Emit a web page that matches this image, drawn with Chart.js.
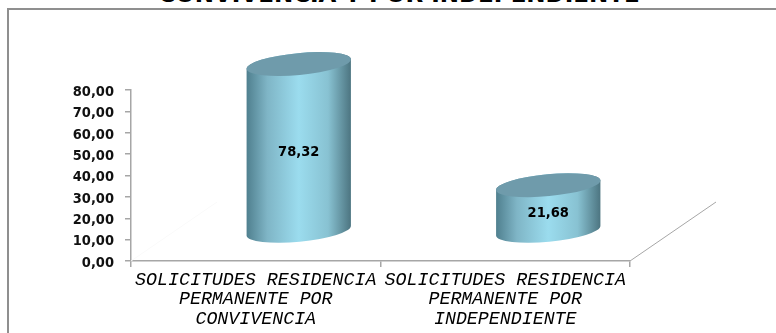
<!DOCTYPE html>
<html>
<head>
<meta charset="utf-8">
<script src="https://cdn.jsdelivr.net/npm/chart.js@4/dist/chart.umd.js"></script>
<style>
    html, body { margin: 0; padding: 0; background: #fff; overflow: hidden; }
    #wrap { position: relative; width: 776px; height: 333px; overflow: hidden; }
    #frame { position: absolute; left: 7px; top: 8px; width: 900px; height: 500px; border: 2px solid #8f8f8f; }
    #title {
        position: absolute; left: 0; top: -19px; width: 798px; text-align: center;
        font: bold 23px 'DejaVu Sans', sans-serif; color: #000; white-space: nowrap;
    }
    canvas { position: absolute; left: 0; top: 0; }
</style>
</head>
<body>
<div id="wrap">
    <div id="frame"></div>
    <div id="title">CONVIVENCIA Y POR INDEPENDIENTE</div>
    <canvas id="chart" width="776" height="333"></canvas>
</div>
<script>
const categories = [
    ['SOLICITUDES RESIDENCIA', 'PERMANENTE POR', 'CONVIVENCIA'],
    ['SOLICITUDES RESIDENCIA', 'PERMANENTE POR', 'INDEPENDIENTE']
];
const values = [78.32, 21.68];
const yMin = 0;
const yMax = 80;
const yStep = 10;

// Falso 3D: desplazamiento del fondo del grafico
const depthX = 86;
const depthY = -59;
const axisColor = '#a6a6a6';
const numberFont = "'DejaVu Sans Condensed', 'DejaVu Sans', sans-serif";

const formatValue = v => v.toFixed(2).replace('.', ',');

class CylinderBar extends Chart.BarElement {
    static id = 'cylinderBar';

    draw(ctx) {
        const { x, y, base, width } = this.getProps(['x', 'y', 'base', 'width']);
        const cx = x + depthX / 2;
        const top = y + depthY / 2;
        const bottom = base + depthY / 2;
        const a = width / 2;
        const b = 11;
        const rot = -0.095;

        const side = ctx.createLinearGradient(cx - a, 0, cx + a, 0);
        side.addColorStop(0, '#4f7f8e');
        side.addColorStop(0.2, '#7fb5c6');
        side.addColorStop(0.5, '#9bdcee');
        side.addColorStop(0.78, '#88c2d2');
        side.addColorStop(1, '#4c7480');

        ctx.save();
        ctx.beginPath();
        ctx.ellipse(cx, bottom, a, b, rot, Math.PI, 0, true);
        ctx.ellipse(cx, top, a, b, rot, 0, Math.PI, true);
        ctx.closePath();
        ctx.fillStyle = side;
        ctx.fill();

        ctx.beginPath();
        ctx.ellipse(cx, top, a, b, rot, 0, Math.PI * 2);
        ctx.fillStyle = '#6f9bab';
        ctx.fill();
        ctx.restore();
    }
}

class CylinderController extends Chart.BarController {
    static id = 'cylinder';
    static defaults = { ...Chart.BarController.defaults, dataElementType: 'cylinderBar' };
}

Chart.register(CylinderBar, CylinderController);

// Lineas de profundidad del suelo
const floorPlugin = {
    id: 'floor',
    beforeDatasetsDraw(chart) {
        const { ctx, chartArea: area } = chart;
        ctx.save();
        ctx.lineWidth = 1;
        ctx.strokeStyle = '#fafafa';
        ctx.beginPath();
        ctx.moveTo(area.left, area.bottom);
        ctx.lineTo(area.left + depthX, area.bottom + depthY);
        ctx.stroke();
        ctx.strokeStyle = axisColor;
        ctx.beginPath();
        ctx.moveTo(area.right, area.bottom);
        ctx.lineTo(area.right + depthX, area.bottom + depthY);
        ctx.stroke();
        ctx.restore();
    }
};

// Etiquetas de valor encima de los cilindros
const valueLabels = {
    id: 'valueLabels',
    afterDatasetsDraw(chart) {
        const { ctx } = chart;
        ctx.save();
        ctx.font = `bold 14.5px ${numberFont}`;
        ctx.fillStyle = '#000';
        ctx.textAlign = 'center';
        ctx.textBaseline = 'middle';
        chart.getDatasetMeta(0).data.forEach((bar, i) => {
            const mid = (bar.y + bar.base) / 2 + depthY / 2 + 5;
            ctx.fillText(formatValue(values[i]), bar.x + depthX / 2, mid);
        });
        ctx.restore();
    }
};

new Chart(document.getElementById('chart'), {
    type: 'cylinder',
    data: {
        labels: categories,
        datasets: [{
            data: values,
            backgroundColor: '#9bdcee',
            categoryPercentage: 1,
            barPercentage: 0.42,
            clip: false
        }]
    },
    options: {
        responsive: false,
        animation: false,
        layout: { padding: { top: 90, right: 146, left: 0, bottom: 0 } },
        plugins: {
            legend: { display: false },
            title: { display: false },
            tooltip: { enabled: false }
        },
        scales: {
            y: {
                min: yMin,
                max: yMax,
                ticks: {
                    stepSize: yStep,
                    autoSkip: false,
                    callback: formatValue,
                    color: '#111',
                    padding: 11,
                    labelOffset: 2,
                    font: { family: numberFont, size: 14.5, weight: 'bold' }
                },
                grid: { drawOnChartArea: false, color: axisColor, tickLength: 6, lineWidth: 1.5 },
                border: { color: axisColor, width: 1.5 },
                afterFit: scale => { scale.width = 131; }
            },
            x: {
                ticks: {
                    color: '#000',
                    autoSkip: false,
                    maxRotation: 0,
                    padding: 3,
                    font: { family: "'Liberation Mono', monospace", size: 18.3, style: 'italic', lineHeight: 1.07 }
                },
                grid: { drawOnChartArea: false, color: axisColor, tickLength: 6, lineWidth: 1.5 },
                border: { color: axisColor, width: 1.5 },
                afterFit: scale => { scale.height = 72; }
            }
        }
    },
    plugins: [floorPlugin, valueLabels]
});
</script>
</body>
</html>
